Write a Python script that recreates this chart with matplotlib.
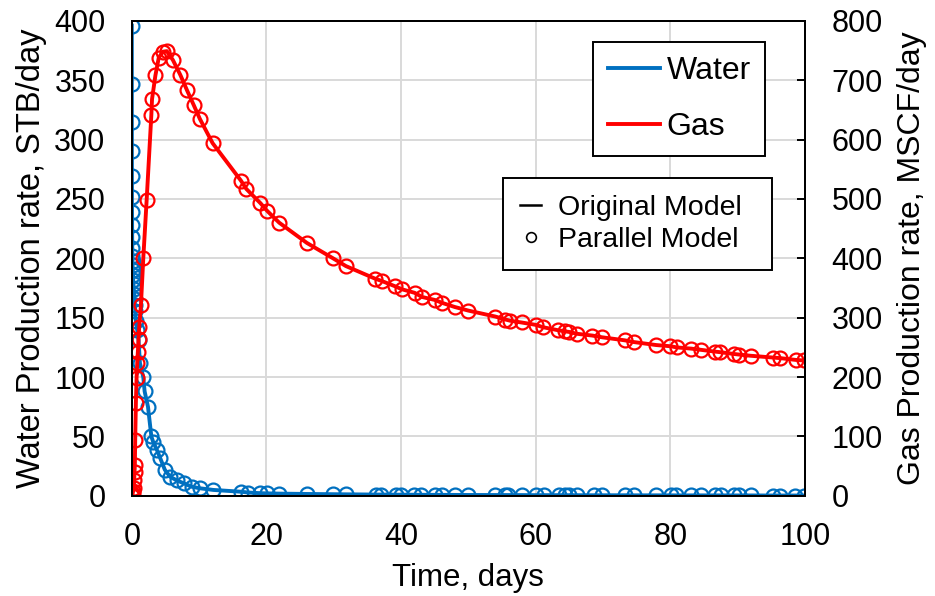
import matplotlib.pyplot as plt
from matplotlib.lines import Line2D

plt.rcParams["font.family"] = ["Liberation Sans", "DejaVu Sans"]

# water rate, STB/day (left axis)
water_days = [0, 0.002, 0.005, 0.01, 0.015, 0.02, 0.03, 0.04, 0.05, 0.06, 0.08,
              0.1, 0.12, 0.15, 0.18, 0.2, 0.25, 0.3, 0.35, 0.4, 0.45, 0.5,
              0.6, 0.8, 1.0, 1.2, 1.7, 1.9, 2.4, 2.9, 3.2, 3.7,
              4.2, 4.9, 5.7, 6.7, 7.7, 8.9, 10.1, 12.1,
              16.2, 17.3, 19.0, 20.1, 21.9, 26.0, 29.9, 31.8,
              36.2, 37.0, 39.2, 40.0, 41.9, 43.0, 45.0, 46.1, 48.0, 49.9,
              54.0, 55.4, 55.9, 57.9, 60.1, 61.2, 63.4, 64.4, 65.0, 66.1,
              68.6, 69.9, 73.2, 74.6, 77.9, 80.1, 80.9, 83.1, 84.5, 86.7,
              87.5, 89.4, 90.2, 91.9, 95.2, 96.3, 98.5, 99.8]
water_rate = [396, 347, 315, 290, 269, 252, 239, 228, 218, 209, 202,
              198, 194, 190, 186, 182, 178, 174, 170, 166, 161, 156,
              147, 140, 131, 112, 100, 88, 75, 50, 45, 39,
              32, 22, 16, 13, 10.6, 7.7, 6.4, 5.0,
              3.5, 2.8, 2.3, 2.1, 1.9, 1.6, 1.4, 1.3,
              1.1, 1.1, 1.0, 1.0, 0.95, 0.9, 0.85, 0.85, 0.8, 0.75,
              0.7, 0.7, 0.7, 0.65, 0.6, 0.6, 0.6, 0.55, 0.55, 0.55,
              0.5, 0.5, 0.5, 0.45, 0.45, 0.45, 0.4, 0.4, 0.4, 0.4,
              0.4, 0.35, 0.35, 0.35, 0.3, 0.3, 0.3, 0.3]

# gas rate, MSCF/day (right axis)
gas_days = [0, 0.05, 0.1, 0.2, 0.3, 0.35, 0.4, 0.45, 0.5, 0.6, 0.7, 0.8, 0.9, 1.0, 1.1,
            1.35, 1.7, 2.2, 2.9, 3.0, 3.5, 4.0, 4.6, 5.2, 6.1, 7.2, 8.2, 9.2, 10.1, 12.0,
            16.2, 17.0, 19.1, 20.1, 21.9, 26.0, 29.9, 31.8, 36.1, 37.1, 39.1, 40.1,
            42.0, 43.1, 45.0, 46.1, 48.0, 50.0, 54.0, 55.5, 56.2, 57.9, 60.0, 61.1,
            63.3, 64.4, 65.0, 66.1, 68.4, 69.9, 73.2, 74.6, 77.9, 80.0, 81.0, 83.1,
            84.5, 86.6, 87.4, 89.4, 90.2, 91.9, 95.2, 96.3, 98.6, 99.9]
gas_rate = [0, 1, 3, 8, 13, 27, 40, 52, 94, 156, 198, 223, 243, 265, 285,
            321, 400, 498, 642, 668, 708, 738, 748, 749, 734, 709, 683, 658, 635, 594,
            531, 517, 493, 480, 460, 426, 400, 387, 366, 362, 353, 348,
            342, 335, 330, 325, 318, 312, 302, 297, 295, 292, 288, 284,
            279, 277, 276, 273, 270, 267, 262, 259, 254, 252, 250, 248,
            246, 243, 242, 239, 238, 236, 233, 232, 229, 228]

water_color = "#0070C0"
gas_color = "#FF0000"

fig, ax = plt.subplots(figsize=(9.35, 5.96), dpi=100)
fig.subplots_adjust(left=0.141, right=0.861, top=0.965, bottom=0.168)
ax2 = ax.twinx()

# original model = line, parallel model = open circles
ax.plot(water_days, water_rate, color=water_color, linewidth=2.8)
ax.plot(water_days, water_rate, "o", color=water_color, mfc="none", markersize=10, mew=1.6)
ax2.plot(gas_days, gas_rate, color=gas_color, linewidth=2.8)
ax2.plot(gas_days, gas_rate, "o", color=gas_color, mfc="none", markersize=10, mew=1.6)

ax.set_xlim(0, 100)
ax.set_ylim(0, 400)
ax2.set_ylim(0, 800)
ax.set_xticks(range(0, 101, 20))
ax.set_yticks(range(0, 401, 50))
ax2.set_yticks(range(0, 801, 100))

ax.grid(True, color="#d9d9d9", linewidth=1.4)
ax.set_axisbelow(True)
for a in (ax, ax2):
    for s in a.spines.values():
        s.set_linewidth(1.4)
        s.set_color("black")

ax.tick_params(axis="both", length=0, labelsize=22, pad=19)
ax2.tick_params(axis="y", direction="in", length=6, width=1.4, labelsize=22, pad=19)

ax.set_xlabel("Time, days", fontsize=22.5, labelpad=8)
ax.set_ylabel("Water Production rate, STB/day", fontsize=23.5, labelpad=5)
ax2.set_ylabel("Gas Production rate, MSCF/day", fontsize=23, labelpad=10)

# legends
fluid_handles = [Line2D([], [], color=water_color, linewidth=2.8),
                 Line2D([], [], color=gas_color, linewidth=2.8)]
leg1 = ax2.legend(fluid_handles, ["Water", "Gas"], loc="upper right",
                  bbox_to_anchor=(0.941, 0.956), fontsize=23, frameon=True,
                  fancybox=False, edgecolor="black", framealpha=1,
                  handlelength=1.65, handletextpad=0.2, labelspacing=0.8,
                  borderpad=0.45, borderaxespad=0)
leg1.get_frame().set_linewidth(1.4)
ax2.add_artist(leg1)

model_handles = [Line2D([], [], color="black", linewidth=1.8),
                 Line2D([], [], marker="o", linestyle="none", color="black",
                        mfc="none", markersize=7, mew=1.2)]
leg2 = ax2.legend(model_handles, ["Original Model", "Parallel Model"], loc="upper left",
                  bbox_to_anchor=(0.551, 0.48, 0.40, 0.189), mode="expand",
                  fontsize=20.5, frameon=True,
                  fancybox=False, edgecolor="black", framealpha=1,
                  handlelength=0.75, handletextpad=0.6, labelspacing=0.2,
                  borderpad=0.6, borderaxespad=0)
leg2.get_frame().set_linewidth(1.4)

fig.savefig("out.png", dpi=100)
